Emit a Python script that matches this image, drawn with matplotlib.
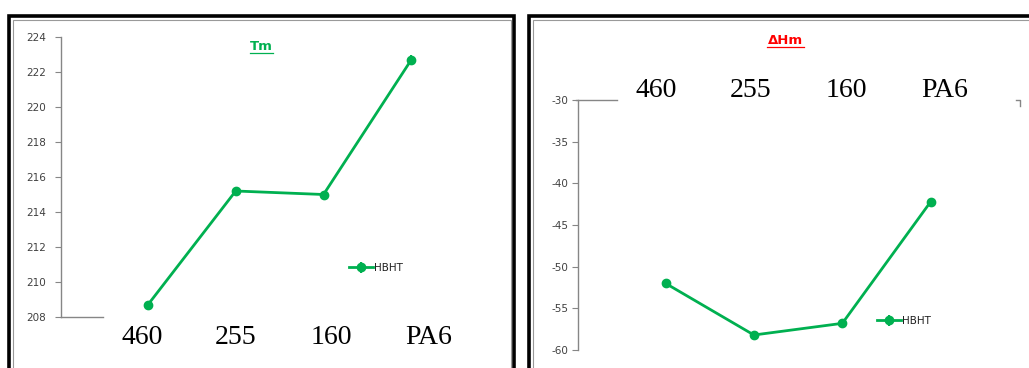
import matplotlib
matplotlib.use("Agg")
import matplotlib.pyplot as plt
from matplotlib.patches import Rectangle
from matplotlib.lines import Line2D

plt.rcParams["axes.unicode_minus"] = False

categories = ["460", "255", "160", "PA6"]
tm_values = [208.7, 215.2, 215.0, 222.7]
tm_err = [0.2, 0.2, 0.15, 0.25]
hm_values = [-52.0, -58.2, -56.8, -42.2]
hm_err = [0.4, 0.3, 0.3, 0.3]
series_name = "HBHT"

W, H = 1029, 368
GREEN = "#00B050"
AXC = "#868686"
TXT = "#404040"

fig = plt.figure(figsize=(W / 100, H / 100), dpi=100)
fig.patch.set_facecolor("white")


def fr(x0, y0, x1, y1):
    # pixel box (top-left origin) -> figure fraction [l, b, w, h]
    return [x0 / W, 1 - y1 / H, (x1 - x0) / W, (y1 - y0) / H]


def frame(x0, y0, x1, y1):
    l, b, w, h = fr(x0, y0, x1, y1)
    fig.add_artist(Rectangle((l, b), w, h, transform=fig.transFigure,
                             fill=False, ec="black", lw=2.6))
    l, b, w, h = fr(x0 + 3.5, y0 + 3.5, x1 - 3.5, y1 + 10)
    fig.add_artist(Rectangle((l, b), w, h, transform=fig.transFigure,
                             fill=False, ec="#9a9a9a", lw=0.8))


frame(9, 16, 514, 380)
frame(529, 16, 1040, 380)

label_x = [-0.06, 1.0, 2.09, 3.2]


def style(ax, yticks, pad):
    for s in ("top", "right", "bottom"):
        ax.spines[s].set_visible(False)
    ax.spines["left"].set_color(AXC)
    ax.spines["left"].set_linewidth(1.0)
    ax.set_yticks(yticks)
    ax.tick_params(axis="y", direction="out", length=4, color=AXC,
                   labelsize=7.5, labelcolor=TXT, pad=pad)
    ax.set_xticks([])
    ax.set_xlim(-0.99, 4.01)
    ax.patch.set_alpha(0)


# left panel: Tm
ax1 = fig.add_axes(fr(61, 37, 500, 317))
ax1.errorbar(range(len(categories)), tm_values, yerr=tm_err, color=GREEN,
             lw=2, marker="o", ms=6, capsize=0, elinewidth=1.5, label=series_name)
ax1.set_ylim(208, 224)
style(ax1, range(208, 225, 2), 7)
ax1.add_line(Line2D([-0.99, -0.51], [208, 208], color=AXC, lw=1.0, clip_on=False))
for xl, c in zip(label_x, categories):
    ax1.text(xl, 208 - 20 / 17.5, c, ha="center", va="center",
             family="Liberation Serif", fontsize=20, color="black", clip_on=False)
ax1.text(0.456, 0.965, "Tm", transform=ax1.transAxes, ha="center", va="center",
         color=GREEN, fontsize=9.5, fontweight="bold")
ax1.add_line(Line2D([0.43, 0.483], [0.943, 0.943], transform=ax1.transAxes,
                    color=GREEN, lw=0.9))
ax1.legend(loc="center left", bbox_to_anchor=(0.645, 0.175), frameon=False,
           fontsize=7.5, handlelength=2.3, handletextpad=0.1, borderpad=0,
           numpoints=1, labelcolor="#202020")

# right panel: dHm
ax2 = fig.add_axes(fr(578, 100, 1020, 350))
ax2.errorbar(range(len(categories)), hm_values, yerr=hm_err, color=GREEN,
             lw=2, marker="o", ms=6, capsize=0, elinewidth=1.5, label=series_name)
ax2.set_ylim(-60, -30)
style(ax2, range(-60, -29, 5), 3)
ax2.add_line(Line2D([-1.01, -0.55], [-30, -30], color=AXC, lw=1.0, clip_on=False))
ax2.add_line(Line2D([3.96, 4.01, 4.01], [-30, -30, -30.7], color=AXC, lw=1.0,
                    clip_on=False))
for xl, c in zip([v - 0.04 for v in label_x], categories):
    ax2.text(xl, -30 + 9 / 8.33, c, ha="center", va="center",
             family="Liberation Serif", fontsize=20, color="black", clip_on=False)
ax2.text(0.47, 1.0 + 60 / 250, "ΔHm", transform=ax2.transAxes, ha="center",
         va="center", color="red", fontsize=9.5, fontweight="bold", clip_on=False)
ax2.add_line(Line2D([0.428, 0.511], [1.0 + 53 / 250] * 2, transform=ax2.transAxes,
                    color="red", lw=0.9, clip_on=False))
ax2.legend(loc="center left", bbox_to_anchor=(0.665, 0.116), frameon=False,
           fontsize=7.5, handlelength=2.3, handletextpad=0.1, borderpad=0,
           numpoints=1, labelcolor="#202020")

fig.savefig("out.png", dpi=100)
